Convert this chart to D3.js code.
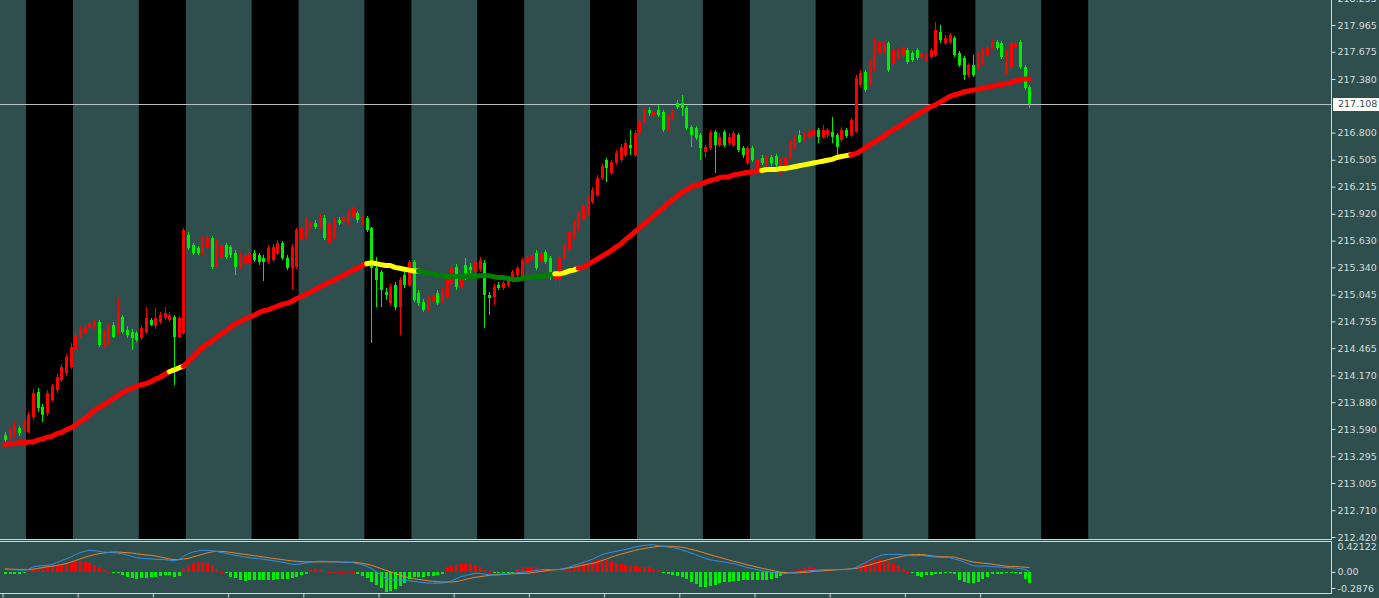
<!DOCTYPE html>
<html><head><meta charset="utf-8">
<script src="https://cdn.jsdelivr.net/npm/d3@7/dist/d3.min.js"></script>
<style>
html,body{margin:0;padding:0;background:#2f4f4f;overflow:hidden}
svg{display:block}
</style></head><body>
<svg id="c" width="1379" height="598"></svg>
<script>
// ---------------- DATA (hourly bars) ----------------
const open = [
213.52,213.50,213.55,213.60,213.58,213.56,213.72,213.99,213.83,213.76,
213.90,214.01,214.12,214.20,214.26,214.45,214.59,214.63,214.68,214.70,
214.75,214.50,214.52,214.72,214.63,214.80,214.66,214.64,214.63,214.58,
214.64,214.77,214.70,214.75,214.79,214.77,214.80,214.59,214.63,215.69,
215.58,215.55,215.50,215.56,215.66,215.37,215.45,215.58,215.56,215.50,
215.34,215.39,215.39,215.50,215.47,215.44,215.40,215.42,215.50,215.60,
215.44,215.33,215.34,215.64,215.67,215.77,215.82,215.78,215.88,215.60,
215.66,215.85,215.83,215.82,215.89,215.93,215.82,215.88,215.77,215.33,
215.29,215.07,214.95,215.15,214.91,215.26,215.15,215.40,215.06,214.97,
214.88,214.97,215.06,214.97,215.02,215.17,215.34,215.13,215.37,215.34,
215.29,215.31,215.39,215.04,215.02,215.15,215.12,215.15,215.20,215.26,
215.24,215.39,215.42,215.50,215.40,215.51,215.44,215.20,215.20,215.44,
215.54,215.67,215.75,215.86,215.93,216.05,216.12,216.31,216.50,216.36,
216.47,216.50,216.56,216.67,216.56,216.80,216.91,217.04,216.99,217.04,
217.02,216.83,216.96,217.12,217.12,217.07,216.86,216.85,216.77,216.59,
216.63,216.81,216.67,216.81,216.69,216.67,216.77,216.63,216.47,216.63,
216.43,216.53,216.45,216.54,216.55,216.37,216.43,216.54,216.64,216.77,
216.72,216.74,216.77,216.83,216.75,216.77,216.81,216.77,216.72,216.83,
216.77,216.81,217.32,217.46,217.34,217.48,217.66,217.67,217.77,217.55,
217.62,217.64,217.69,217.66,217.69,217.61,217.59,217.62,217.64,217.89,
217.77,217.78,217.82,217.66,217.61,217.42,217.53,217.50,217.55,217.64,
217.72,217.78,217.77,217.45,217.50,217.73,217.78,217.51,217.29
];
const high = [
213.56,213.60,213.67,213.62,213.69,213.77,214.02,214.03,213.86,214.01,
214.08,214.19,214.29,214.40,214.52,214.64,214.70,214.72,214.76,214.77,
214.77,214.66,214.73,214.75,215.02,214.82,214.70,214.67,214.65,214.72,
214.91,214.79,214.90,214.86,214.91,214.86,214.82,214.81,215.77,215.72,
215.60,215.57,215.68,215.70,215.68,215.64,215.60,215.60,215.58,215.53,
215.51,215.50,215.53,215.53,215.50,215.47,215.58,215.59,215.64,215.63,
215.47,215.59,215.77,215.80,215.89,215.84,215.85,215.93,215.91,215.85,
215.89,215.89,215.92,215.96,216.04,215.95,215.91,215.90,215.78,215.45,
215.31,215.12,215.16,215.18,215.24,215.29,215.42,215.42,215.10,215.00,
215.04,215.07,215.10,215.13,215.24,215.38,215.38,215.27,215.44,215.39,
215.44,215.45,215.42,215.07,215.16,215.18,215.19,215.23,215.31,215.36,
215.44,215.47,215.50,215.53,215.52,215.53,215.46,215.31,215.46,215.60,
215.75,215.85,215.94,216.03,216.12,216.21,216.34,216.47,216.53,216.50,
216.61,216.68,216.72,216.83,216.83,216.94,217.07,217.08,217.06,217.10,
217.04,217.00,217.04,217.15,217.21,217.09,216.88,216.87,216.80,216.67,
216.83,216.83,216.79,216.83,216.79,216.82,216.80,216.65,216.65,216.65,
216.53,216.56,216.55,216.56,216.57,216.53,216.56,216.72,216.77,216.83,
216.82,216.83,216.85,216.85,216.88,216.85,216.97,216.80,216.86,216.85,
216.96,217.42,217.48,217.48,217.59,217.82,217.80,217.79,217.79,217.72,
217.72,217.74,217.72,217.68,217.72,217.68,217.66,217.72,218.00,217.97,
217.86,217.88,217.85,217.68,217.63,217.55,217.64,217.68,217.72,217.75,
217.80,217.80,217.79,217.69,217.79,217.79,217.80,217.53,217.32
];
const low = [
213.45,213.47,213.50,213.51,213.56,213.55,213.69,213.77,213.67,213.73,
213.88,213.98,214.10,214.16,214.24,214.42,214.57,214.60,214.65,214.67,
214.48,214.48,214.50,214.57,214.61,214.62,214.58,214.45,214.53,214.55,
214.62,214.70,214.67,214.73,214.77,214.75,214.07,214.57,214.61,215.53,
215.47,215.47,215.47,215.54,215.32,215.34,215.43,215.43,215.44,215.26,
215.32,215.37,215.20,215.40,215.37,215.19,215.38,215.40,215.47,215.42,
215.31,215.10,215.32,215.62,215.65,215.75,215.76,215.76,215.64,215.58,
215.64,215.80,215.81,215.80,215.86,215.82,215.80,215.72,214.52,214.91,
214.91,214.99,214.92,214.88,214.61,215.12,215.13,214.97,214.92,214.86,
214.86,214.94,214.93,214.94,215.00,215.15,215.10,215.11,215.20,215.28,
215.27,215.29,214.68,214.82,214.93,215.10,215.10,215.13,215.18,215.24,
215.21,215.37,215.40,215.31,215.38,215.38,215.20,215.12,215.12,215.42,
215.51,215.64,215.72,215.84,215.91,216.03,216.10,216.29,216.27,216.34,
216.45,216.48,216.54,216.56,216.54,216.77,216.89,216.98,216.96,216.97,
216.81,216.81,216.94,217.06,216.98,216.83,216.64,216.72,216.50,216.53,
216.61,216.36,216.64,216.64,216.65,216.64,216.59,216.53,216.45,216.48,
216.41,216.45,216.43,216.44,216.42,216.34,216.41,216.51,216.62,216.69,
216.70,216.72,216.75,216.69,216.73,216.74,216.69,216.56,216.70,216.74,
216.75,216.79,217.29,217.24,217.32,217.46,217.64,217.65,217.46,217.53,
217.60,217.62,217.54,217.56,217.59,217.59,217.56,217.60,217.62,217.77,
217.75,217.76,217.62,217.51,217.37,217.40,217.40,217.48,217.53,217.62,
217.69,217.69,217.60,217.42,217.48,217.71,217.49,217.26,217.07
];
const close = [
213.47,213.58,213.61,213.55,213.65,213.74,213.98,213.82,213.74,213.98,
214.05,214.15,214.26,214.37,214.48,214.61,214.66,214.68,214.74,214.75,
214.50,214.64,214.70,214.59,214.85,214.64,214.61,214.58,214.55,214.68,
214.79,214.72,214.79,214.82,214.85,214.82,214.59,214.79,215.75,215.55,
215.50,215.50,215.66,215.67,215.34,215.60,215.58,215.45,215.47,215.34,
215.47,215.47,215.50,215.42,215.40,215.40,215.55,215.56,215.60,215.44,
215.33,215.56,215.75,215.77,215.85,215.82,215.78,215.88,215.66,215.82,
215.85,215.82,215.89,215.94,215.98,215.85,215.89,215.75,215.33,215.20,
215.10,215.04,215.13,214.91,215.20,215.15,215.40,214.99,214.95,214.88,
215.02,215.04,214.95,215.10,215.20,215.34,215.13,215.24,215.28,215.31,
215.40,215.42,215.04,215.01,215.13,215.12,215.17,215.20,215.29,215.33,
215.42,215.45,215.47,215.33,215.50,215.40,215.28,215.28,215.44,215.58,
215.72,215.83,215.92,216.00,216.09,216.18,216.31,216.44,216.42,216.48,
216.58,216.64,216.69,216.63,216.80,216.91,217.02,217.01,217.02,216.99,
216.83,216.97,217.02,217.08,217.07,216.85,216.77,216.74,216.63,216.64,
216.80,216.67,216.75,216.67,216.75,216.80,216.61,216.56,216.63,216.50,
216.50,216.47,216.53,216.47,216.45,216.50,216.54,216.70,216.75,216.70,
216.80,216.81,216.83,216.75,216.83,216.83,216.75,216.64,216.83,216.76,
216.94,217.39,217.45,217.26,217.55,217.80,217.78,217.77,217.48,217.69,
217.69,217.72,217.56,217.59,217.61,217.66,217.64,217.69,217.91,217.80,
217.82,217.86,217.64,217.53,217.42,217.53,217.42,217.66,217.69,217.73,
217.78,217.72,217.62,217.67,217.77,217.77,217.51,217.28,217.11
];
// moving average and its trend state runs [state, firstBar, lastBar]
const ma = [
213.42,213.43,213.43,213.44,213.44,213.45,213.45,213.47,213.48,213.50,
213.51,213.54,213.55,213.58,213.60,213.63,213.67,213.70,213.74,213.79,
213.82,213.85,213.88,213.92,213.95,213.98,214.01,214.03,214.05,214.07,
214.08,214.10,214.13,214.15,214.18,214.21,214.23,214.25,214.27,214.32,
214.37,214.42,214.47,214.51,214.54,214.58,214.62,214.65,214.69,214.73,
214.75,214.78,214.80,214.82,214.85,214.87,214.88,214.90,214.92,214.94,
214.95,214.97,215.00,215.02,215.05,215.07,215.10,215.13,215.15,215.18,
215.20,215.23,215.25,215.28,215.31,215.33,215.36,215.38,215.39,215.38,
215.37,215.36,215.36,215.34,215.33,215.32,215.31,215.30,215.30,215.29,
215.28,215.27,215.26,215.25,215.24,215.24,215.24,215.24,215.24,215.24,
215.24,215.25,215.25,215.25,215.24,215.23,215.23,215.22,215.21,215.21,
215.22,215.23,215.23,215.24,215.24,215.25,215.26,215.27,215.27,215.28,
215.30,215.31,215.33,215.34,215.37,215.40,215.43,215.46,215.49,215.52,
215.56,215.59,215.64,215.68,215.72,215.77,215.81,215.85,215.90,215.94,
215.98,216.03,216.07,216.11,216.15,216.18,216.21,216.23,216.24,216.26,
216.28,216.29,216.31,216.32,216.32,216.34,216.35,216.36,216.37,216.37,
216.39,216.39,216.40,216.40,216.40,216.41,216.41,216.42,216.43,216.44,
216.45,216.46,216.47,216.48,216.49,216.50,216.51,216.53,216.54,216.55,
216.56,216.57,216.60,216.63,216.67,216.70,216.73,216.76,216.80,216.83,
216.86,216.89,216.93,216.96,216.99,217.02,217.05,217.08,217.10,217.13,
217.16,217.19,217.21,217.22,217.24,217.25,217.26,217.27,217.28,217.29,
217.30,217.31,217.32,217.33,217.34,217.36,217.37,217.38,217.38
];
const maTrendRuns = [
["up",0,35],["weak",36,38],["up",39,77],["weak",78,88],["down",89,117],
["weak",118,122],["up",123,161],["weak",162,180],["up",181,218]
];
// MACD panel
const macdHist = [
-0.018,-0.018,-0.020,-0.020,-0.014,0.031,0.044,0.053,0.062,0.076,
0.085,0.094,0.103,0.121,0.134,0.148,0.157,0.152,0.134,0.107,
0.076,0.031,0.004,-0.014,-0.014,-0.036,-0.059,-0.081,-0.086,-0.081,
-0.072,-0.059,-0.059,-0.050,-0.041,-0.036,-0.059,-0.050,0.053,0.098,
0.134,0.143,0.143,0.130,0.098,0.053,0.009,-0.014,-0.059,-0.081,
-0.104,-0.113,-0.108,-0.104,-0.104,-0.104,-0.104,-0.099,-0.095,-0.090,
-0.086,-0.077,-0.059,-0.036,-0.018,0.031,0.044,0.040,0.022,0.009,
0.004,0.004,0.004,0.004,0.004,-0.023,-0.050,-0.081,-0.126,-0.171,
-0.216,-0.261,-0.250,-0.229,-0.184,-0.140,-0.095,-0.068,-0.059,-0.059,
-0.050,-0.045,-0.036,-0.023,0.076,0.085,0.098,0.121,0.121,0.121,
0.107,0.076,0.031,0.002,-0.014,-0.014,-0.014,-0.014,-0.005,0.053,
0.076,0.076,0.076,0.067,0.049,0.040,0.022,0.022,0.022,0.040,
0.053,0.076,0.098,0.121,0.134,0.157,0.175,0.188,0.175,0.143,
0.130,0.121,0.098,0.089,0.085,0.076,0.076,0.067,0.053,0.031,
-0.014,-0.023,-0.036,-0.045,-0.059,-0.095,-0.126,-0.157,-0.193,-0.202,
-0.184,-0.171,-0.148,-0.131,-0.126,-0.117,-0.113,-0.108,-0.104,-0.104,
-0.108,-0.104,-0.099,-0.086,-0.072,-0.050,-0.027,0.009,0.031,0.044,
0.062,0.067,0.062,0.044,0.022,0.020,0.020,0.020,0.020,0.020,
0.020,0.022,0.098,0.130,0.157,0.179,0.188,0.175,0.143,0.121,
0.085,0.053,0.009,-0.014,-0.050,-0.059,-0.036,-0.036,-0.027,-0.027,
-0.014,-0.014,-0.018,-0.104,-0.126,-0.140,-0.140,-0.126,-0.095,-0.059,
-0.027,-0.023,-0.018,-0.014,-0.014,-0.014,-0.023,-0.095,-0.140
];
const macdMain = [
0.040,0.040,0.035,0.035,0.031,0.040,0.076,0.085,0.089,0.098,
0.107,0.134,0.157,0.183,0.210,0.242,0.269,0.287,0.300,0.296,
0.287,0.278,0.273,0.269,0.264,0.255,0.237,0.219,0.201,0.192,
0.188,0.183,0.179,0.175,0.175,0.166,0.157,0.175,0.219,0.255,
0.278,0.291,0.300,0.300,0.296,0.287,0.273,0.260,0.246,0.233,
0.224,0.210,0.201,0.192,0.188,0.179,0.170,0.161,0.148,0.139,
0.125,0.112,0.107,0.116,0.130,0.139,0.148,0.152,0.152,0.148,
0.143,0.143,0.139,0.139,0.134,0.121,0.103,0.085,0.053,0.009,
-0.036,-0.081,-0.099,-0.104,-0.104,-0.108,-0.113,-0.122,-0.131,-0.140,
-0.144,-0.148,-0.148,-0.144,-0.135,-0.117,-0.086,-0.059,-0.045,-0.027,
-0.014,-0.014,-0.023,-0.032,-0.036,-0.036,-0.032,-0.023,-0.014,-0.005,
0.004,0.009,0.017,0.026,0.035,0.040,0.040,0.040,0.040,0.053,
0.071,0.094,0.112,0.134,0.157,0.179,0.210,0.242,0.260,0.273,
0.287,0.300,0.314,0.327,0.345,0.358,0.367,0.376,0.376,0.367,
0.354,0.345,0.336,0.327,0.309,0.287,0.264,0.242,0.215,0.192,
0.175,0.161,0.152,0.143,0.130,0.121,0.103,0.085,0.067,0.053,
0.040,0.022,0.013,0.004,-0.005,-0.014,-0.014,-0.009,0.000,0.009,
0.013,0.022,0.026,0.031,0.035,0.040,0.040,0.040,0.040,0.040,
0.044,0.067,0.098,0.130,0.166,0.197,0.224,0.242,0.246,0.246,
0.246,0.242,0.237,0.228,0.228,0.233,0.224,0.215,0.210,0.206,
0.206,0.201,0.183,0.166,0.143,0.116,0.094,0.085,0.085,0.085,
0.080,0.076,0.071,0.067,0.062,0.058,0.053,0.040,0.013
];
const macdSignal = [
0.049,0.044,0.044,0.040,0.040,0.040,0.044,0.053,0.067,0.076,
0.085,0.094,0.107,0.121,0.139,0.161,0.183,0.206,0.224,0.242,
0.255,0.264,0.273,0.278,0.278,0.273,0.269,0.264,0.255,0.246,
0.237,0.233,0.224,0.210,0.197,0.183,0.175,0.175,0.183,0.192,
0.210,0.228,0.246,0.264,0.278,0.287,0.287,0.282,0.273,0.264,
0.255,0.246,0.237,0.228,0.219,0.210,0.201,0.192,0.183,0.175,
0.166,0.157,0.152,0.148,0.143,0.143,0.143,0.143,0.143,0.143,
0.143,0.143,0.139,0.139,0.139,0.134,0.125,0.112,0.098,0.076,
0.053,0.031,0.009,-0.014,-0.036,-0.059,-0.072,-0.086,-0.095,-0.104,
-0.113,-0.122,-0.126,-0.131,-0.131,-0.131,-0.126,-0.113,-0.095,-0.081,
-0.068,-0.059,-0.050,-0.041,-0.032,-0.027,-0.023,-0.023,-0.018,-0.018,
-0.014,-0.014,-0.005,0.004,0.013,0.022,0.031,0.035,0.040,0.049,
0.062,0.071,0.085,0.098,0.112,0.121,0.139,0.161,0.183,0.206,
0.228,0.246,0.264,0.282,0.300,0.314,0.323,0.336,0.345,0.354,
0.358,0.358,0.354,0.349,0.345,0.332,0.314,0.300,0.282,0.260,
0.242,0.224,0.206,0.188,0.170,0.152,0.139,0.121,0.103,0.089,
0.071,0.058,0.044,0.031,0.017,0.004,0.000,-0.005,-0.009,-0.005,
0.000,0.004,0.013,0.017,0.022,0.026,0.031,0.035,0.040,0.044,
0.049,0.053,0.067,0.085,0.103,0.121,0.139,0.157,0.175,0.192,
0.206,0.219,0.233,0.242,0.242,0.246,0.237,0.228,0.219,0.215,
0.215,0.210,0.210,0.192,0.175,0.157,0.143,0.134,0.125,0.121,
0.112,0.103,0.094,0.085,0.080,0.080,0.076,0.071,0.067
];
// session shading: first bar of each dark session, and its length in bars
const nightStarts = [5,29,53,77,101,125,149,173,197,221];
const nightLen = 10;
// axis tick values / labels
const priceTicks = [218.255,217.965,217.675,217.380,216.800,216.505,216.215,215.920,215.630,215.340,215.045,214.755,214.465,214.170,213.880,213.590,213.295,213.005,212.710,212.420];
const bidPrice = 217.108;
const macdTicks = [0.42122, 0, -0.2876];
const macdTickLabels = ["0.42122","0.00","-0.2876"];
const timeTickBars = [0,16,32,48,64,80,96,112,128,144,160,176,192,208];

// ---------------- DRAW ----------------
const W=1379,H=598, axisX=1332;
const BG="#2f4f4f", FG="#d6dede", UP="#ff0000", DN="#00ee00";
const trendColor={up:"#ff0000",weak:"#ffff00",down:"#008000"};
const svg=d3.select("#c");
svg.append("rect").attr("width",W).attr("height",H).attr("fill",BG);

const x=d3.scaleLinear().domain([0,100]).range([4.85,474.85]);
const y=d3.scaleLinear().domain([212.42,217.965]).range([537,25]);
const ym=d3.scaleLinear().domain([-0.2876,0.42122]).range([593.5,541.5]);
const bars=d3.range(close.length);

const defs=svg.append("defs");
defs.append("clipPath").attr("id","cm").append("rect").attr("x",0).attr("y",0).attr("width",axisX).attr("height",539);
defs.append("clipPath").attr("id","cs").append("rect").attr("x",0).attr("y",542).attr("width",axisX).attr("height",51);

const gm=svg.append("g").attr("clip-path","url(#cm)");
gm.append("g").selectAll("rect").data(nightStarts).join("rect")
  .attr("x",d=>x(d-0.5)).attr("width",d=>x(d+nightLen-0.5)-x(d-0.5))
  .attr("y",0).attr("height",539).attr("fill","#000");

// bid line
gm.append("line").attr("x1",0).attr("x2",axisX).attr("y1",Math.round(y(bidPrice))+0.5).attr("y2",Math.round(y(bidPrice))+0.5)
  .attr("stroke","#b8c0c0").attr("stroke-width",1);

const cx=i=>Math.round(x(i));
const gc=gm.append("g").attr("shape-rendering","crispEdges");
gc.selectAll("line").data(bars).join("line")
  .attr("x1",i=>cx(i)+0.5).attr("x2",i=>cx(i)+0.5)
  .attr("y1",i=>y(high[i])).attr("y2",i=>y(low[i]))
  .attr("stroke",i=>close[i]>=open[i]?UP:DN).attr("stroke-width",1);
gc.selectAll("rect").data(bars).join("rect")
  .attr("x",i=>cx(i)-1).attr("width",3)
  .attr("y",i=>y(Math.max(open[i],close[i])))
  .attr("height",i=>Math.max(1,Math.abs(y(open[i])-y(close[i]))))
  .attr("fill",i=>close[i]>=open[i]?UP:DN);

// moving average, coloured by trend state
const maLine=d3.line().x(i=>x(i)).y(i=>y(ma[i]));
gm.append("g").selectAll("path").data(maTrendRuns).join("path")
  .attr("d",r=>maLine(d3.range(Math.max(0,r[1]-1),r[2]+1)))
  .attr("fill","none").attr("stroke",r=>trendColor[r[0]])
  .attr("stroke-width",5).attr("stroke-linecap","round").attr("stroke-linejoin","round");

// MACD panel
const gs=svg.append("g").attr("clip-path","url(#cs)");
gs.append("g").attr("shape-rendering","crispEdges").selectAll("rect").data(bars).join("rect")
  .attr("x",i=>cx(i)-1).attr("width",3)
  .attr("y",i=>Math.min(ym(0),ym(macdHist[i])))
  .attr("height",i=>Math.max(1,Math.abs(ym(macdHist[i])-ym(0))))
  .attr("fill",i=>macdHist[i]>=0?UP:DN);
gs.append("path").attr("d",d3.line().x(i=>x(i)).y(i=>ym(macdSignal[i]))(bars))
  .attr("fill","none").attr("stroke","#e8822e").attr("stroke-width",1);
gs.append("path").attr("d",d3.line().x(i=>x(i)).y(i=>ym(macdMain[i]))(bars))
  .attr("fill","none").attr("stroke","#2f8fe8").attr("stroke-width",1);

// frames
const fr=svg.append("g").attr("stroke","#d0d6d6").attr("stroke-width",1).attr("shape-rendering","crispEdges");
fr.append("line").attr("x1",0).attr("x2",axisX).attr("y1",539.5).attr("y2",539.5);
fr.append("line").attr("x1",0).attr("x2",axisX).attr("y1",541.5).attr("y2",541.5);
fr.append("line").attr("x1",0).attr("x2",axisX).attr("y1",593.5).attr("y2",593.5);
fr.append("line").attr("x1",axisX-0.5).attr("x2",axisX-0.5).attr("y1",0).attr("y2",539.5);
fr.append("line").attr("x1",axisX-0.5).attr("x2",axisX-0.5).attr("y1",541.5).attr("y2",593.5);

const font="'DejaVu Sans', Verdana, sans-serif";
// price axis
const ga=svg.append("g").attr("transform",`translate(${axisX-0.5},0)`)
  .call(d3.axisRight(y).tickValues(priceTicks).tickFormat(d3.format(".3f")).tickSize(4).tickPadding(2));
ga.select(".domain").remove();
ga.attr("font-family",font).attr("font-size",9.5).attr("color",FG);

// bid label
const by=y(bidPrice);
svg.append("rect").attr("x",axisX+1).attr("y",Math.round(by)-6).attr("width",46).attr("height",13).attr("fill","#ffffff");
svg.append("text").attr("x",axisX+6).attr("y",by).attr("dy","0.34em")
  .attr("font-family",font).attr("font-size",9.5).attr("fill","#2f4f4f").text(d3.format(".3f")(bidPrice));

// MACD axis
const gma=svg.append("g").attr("transform",`translate(${axisX-0.5},0)`)
  .call(d3.axisRight(ym).tickValues(macdTicks).tickFormat((d,i)=>macdTickLabels[i]).tickSize(4).tickPadding(2));
gma.select(".domain").remove();
gma.attr("font-family",font).attr("font-size",9.5).attr("color",FG);
gma.selectAll(".tick").attr("transform",(d)=>{
  let p=ym(d); if(d===macdTicks[0]) p+=5; if(d===macdTicks[2]) p-=5; return `translate(0,${p})`;});
gma.selectAll(".tick").filter(d=>d===macdTicks[0]).select("line").remove();

// time axis ticks
const gt=svg.append("g").attr("transform","translate(0,593.5)")
  .call(d3.axisBottom(x).tickValues(timeTickBars.map(b=>b-0.5)).tickFormat("").tickSize(4));
gt.select(".domain").remove();
gt.attr("color","#d0d6d6");
</script>
</body></html>
